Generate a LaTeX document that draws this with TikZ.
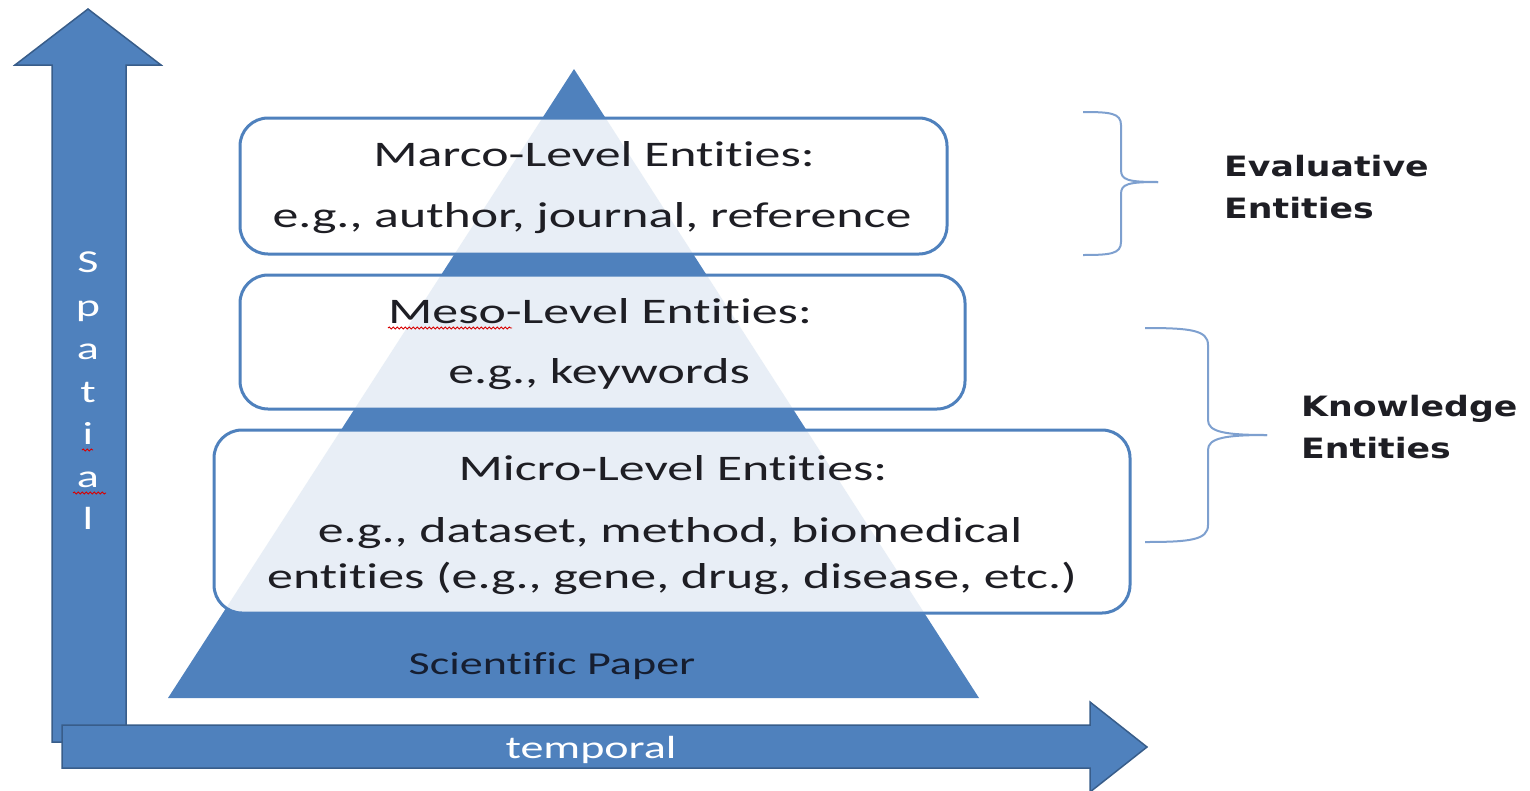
\documentclass[tikz,border=0pt]{standalone}
\usepackage{fontspec}
\setmainfont{Carlito}[FakeStretch=1.44, Ligatures={NoCommon,NoContextual}, Contextuals={NoAlternate}]
\newfontfamily\labelfont{DejaVu Sans}[FakeStretch=1.24]
\usetikzlibrary{decorations.pathmorphing}

\definecolor{pyrblue}{RGB}{79,129,189}
\definecolor{arrowedge}{RGB}{56,93,138}
\definecolor{bracecol}{RGB}{126,160,207}
\definecolor{textdark}{RGB}{30,30,36}
\definecolor{paperink}{RGB}{22,30,48}

\tikzset{
  bigarrow/.style={fill=pyrblue, draw=arrowedge, line width=1.5pt, line join=miter},
  levelbox/.style={draw=pyrblue, line width=3pt, rounded corners=28pt,
    fill=white, fill opacity=0.87, inner sep=0pt},
  boxtext/.style={text=textdark, anchor=base, inner sep=0pt,
    font=\fontsize{36}{42}\selectfont},
  axistext/.style={text=white, anchor=base, inner sep=0pt,
    font=\fontsize{32}{36}\selectfont},
  sidetext/.style={text=textdark, anchor=base west, inner sep=0pt, align=left,
    font=\labelfont\bfseries\fontsize{28}{42}\selectfont},
  bracket/.style={draw=bracecol, line width=2pt},
  spellmark/.style={draw=red!85!black, line width=0.9pt,
    decorate, decoration={snake, segment length=4pt, amplitude=1pt}}
}

\begin{document}
\begin{tikzpicture}[x=1pt, y=-1pt]
\useasboundingbox (0,0) rectangle (1530,790);

% vertical axis arrow
\draw[bigarrow] (52,742) -- (52,65) -- (15,65) -- (88,9) -- (161,65)
  -- (126,65) -- (126,742) -- cycle;
% horizontal axis arrow
\draw[bigarrow] (62,725) -- (1090,725) -- (1090,702) -- (1147,747)
  -- (1090,792) -- (1090,768) -- (62,768) -- cycle;

% pyramid
\fill[pyrblue] (168,698) -- (574,69) -- (979,698) -- cycle;

% level boxes
\node[levelbox, minimum width=707pt, minimum height=136pt] (marco) at (593.5,186) {};
\node[levelbox, minimum width=725pt, minimum height=134pt] (meso) at (602.5,342) {};
\node[levelbox, minimum width=916pt, minimum height=183pt] (micro) at (672,521.5) {};

% box texts
\node[boxtext] (marcoA) at (594,166) {Marco-Level Entities:};
\node[boxtext] (marcoB) at (592,227) {e.g., author, journal, reference};
\node[boxtext] (mesoA) at (600,323) {Meso-Level Entities:};
\node[boxtext] (mesoB) at (599,383) {e.g., keywords};
\node[boxtext] (microA) at (673,480) {Micro-Level Entities:};
\node[boxtext] (microB) at (670,542) {e.g., dataset, method, biomedical};
\node[boxtext] (microC) at (672,588) {entities (e.g., gene, drug, disease, etc.)};

% spell-check marks
\draw[spellmark] (388,328) -- (512,328);
\draw[spellmark] (82,450) -- (93,450);
\draw[spellmark] (73,493) -- (106,493);

% base label
\node[boxtext, text=paperink, font=\fontsize{32}{36}\selectfont] (paper) at (552,674) {Scientific Paper};

% axis labels
\node[axistext] (temporal) at (591,758) {temporal};
\foreach \ch/\yy [count=\k] in {S/272, p/316, a/359, t/402, i/444, a/487, l/529}
  \node[axistext] (sp\k) at (88,\yy) {\ch};

% braces on the right
\coordinate (evalTop) at (1083,112);
\coordinate (evalBot) at (1083,255);
\coordinate (evalTip) at (1158,182);
\draw[bracket] (evalTop) .. controls (1110,112) and (1121,113) .. (1121,125)
  -- (1121,170) .. controls (1121,180) and (1128,182) .. (evalTip);
\draw[bracket] (evalBot) .. controls (1110,255) and (1121,254) .. (1121,242)
  -- (1121,194) .. controls (1121,184) and (1128,182) .. (evalTip);

\coordinate (knowTop) at (1145,328);
\coordinate (knowBot) at (1145,542);
\coordinate (knowTip) at (1267,435);
\draw[bracket] (knowTop) .. controls (1190,328) and (1208,330) .. (1208,345)
  -- (1208,420) .. controls (1208,432) and (1225,435) .. (knowTip);
\draw[bracket] (knowBot) .. controls (1190,542) and (1208,540) .. (1208,525)
  -- (1208,450) .. controls (1208,438) and (1225,435) .. (knowTip);

% side labels
\node[sidetext] (evalA) at (1224,176) {Evaluative};
\node[sidetext] (evalB) at (1224,218) {Entities};
\node[sidetext] (knowA) at (1301,416) {Knowledge};
\node[sidetext] (knowB) at (1301,458) {Entities};
\end{tikzpicture}
\end{document}
